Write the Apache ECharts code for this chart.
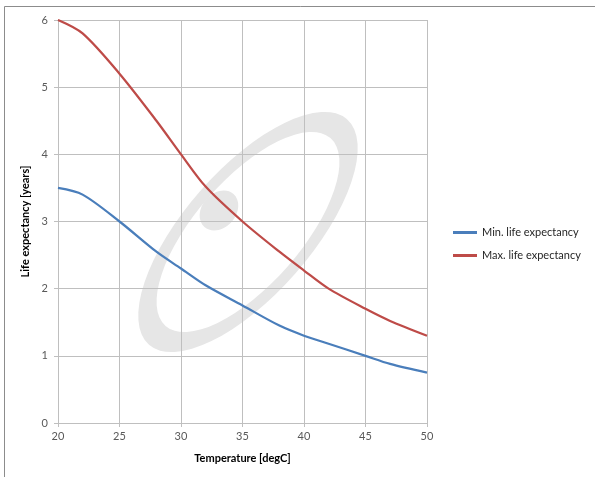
<!DOCTYPE html>
<html>
<head>
<meta charset="utf-8">
<script src="https://cdn.jsdelivr.net/npm/echarts@6/dist/echarts.min.js"></script>
<style>html,body{margin:0;padding:0;background:#fff}#c{width:595px;height:477px}</style>
</head>
<body>
<div id="c"></div>
<script>
var temps = [20, 22, 25, 28, 30, 32, 35, 38, 40, 42, 45, 47, 50];
var minLife = [3.5, 3.4, 3.0, 2.55, 2.3, 2.05, 1.75, 1.45, 1.3, 1.18, 1.0, 0.88, 0.75];
var maxLife = [6.0, 5.8, 5.2, 4.5, 4.0, 3.52, 3.0, 2.55, 2.27, 2.0, 1.7, 1.52, 1.3];
var seriesNames = ['Min. life expectancy', 'Max. life expectancy'];
var xTicks = [20, 25, 30, 35, 40, 45, 50];
var yTicks = [0, 1, 2, 3, 4, 5, 6];

function pairs(xs, ys) { return xs.map(function (x, i) { return [x, ys[i]]; }); }

var chart = echarts.init(document.getElementById('c'), null, {renderer: 'canvas'});
var font = 'Lato, "Open Sans", sans-serif';
chart.setOption({
  animation: false,
  backgroundColor: '#fff',
  textStyle: {fontFamily: font},
  graphic: [
    {type: 'rect', z: -10, silent: true, shape: {x: 4.5, y: 6.5, width: 800, height: 800},
     style: {fill: null, stroke: '#8c8c8c', lineWidth: 1}},
    {type: 'group', x: 248, y: 232, rotation: 0.85, z: -5, silent: true, children: [
      {type: 'ring', shape: {cx: 0, cy: 0, r: 150, r0: 125}, scaleY: 0.42,
       style: {fill: '#e6e6e6'}},
      {type: 'ellipse', shape: {cx: -3, cy: -36, rx: 22, ry: 17}, style: {fill: '#e6e6e6'}}
    ]}
  ],
  grid: {left: 58, right: 168, top: 20, bottom: 54, containLabel: false},
  legend: {
    orient: 'vertical', left: 448, top: 222, itemGap: 12,
    itemWidth: 24, itemHeight: 3, icon: 'rect',
    textStyle: {fontSize: 11, color: '#262626', fontFamily: font},
    data: seriesNames
  },
  xAxis: {
    type: 'value', min: 20, max: 50, interval: 5,
    name: 'Temperature [degC]', nameLocation: 'middle', nameGap: 30,
    nameTextStyle: {fontWeight: 'bold', fontSize: 11, color: '#000', fontFamily: font},
    axisLine: {lineStyle: {color: '#bfbfbf'}},
    axisTick: {show: true, length: 4, lineStyle: {color: '#bfbfbf'}},
    axisLabel: {fontSize: 11, color: '#595959', margin: 8, fontFamily: font,
      formatter: function (v) { return xTicks.indexOf(v) >= 0 ? String(v) : ''; }},
    splitLine: {show: true, lineStyle: {color: '#bfbfbf'}}
  },
  yAxis: {
    type: 'value', min: 0, max: 6, interval: 1,
    name: 'Life expectancy [years]', nameLocation: 'middle', nameGap: 17,
    nameTextStyle: {fontWeight: 'bold', fontSize: 11, color: '#000', fontFamily: font},
    axisLine: {show: true, lineStyle: {color: '#bfbfbf'}},
    axisTick: {show: true, length: 4, lineStyle: {color: '#bfbfbf'}},
    axisLabel: {fontSize: 11, color: '#595959', margin: 10, fontFamily: font,
      formatter: function (v) { return yTicks.indexOf(v) >= 0 ? String(v) : ''; }},
    splitLine: {show: true, lineStyle: {color: '#bfbfbf'}}
  },
  series: [
    {name: seriesNames[0], type: 'line', smooth: 0.3, showSymbol: false,
     data: pairs(temps, minLife), lineStyle: {color: '#4a7ebb', width: 2.25}, itemStyle: {color: '#4a7ebb'}},
    {name: seriesNames[1], type: 'line', smooth: 0.3, showSymbol: false,
     data: pairs(temps, maxLife), lineStyle: {color: '#be4b48', width: 2.25}, itemStyle: {color: '#be4b48'}}
  ]
});
</script>
</body>
</html>
